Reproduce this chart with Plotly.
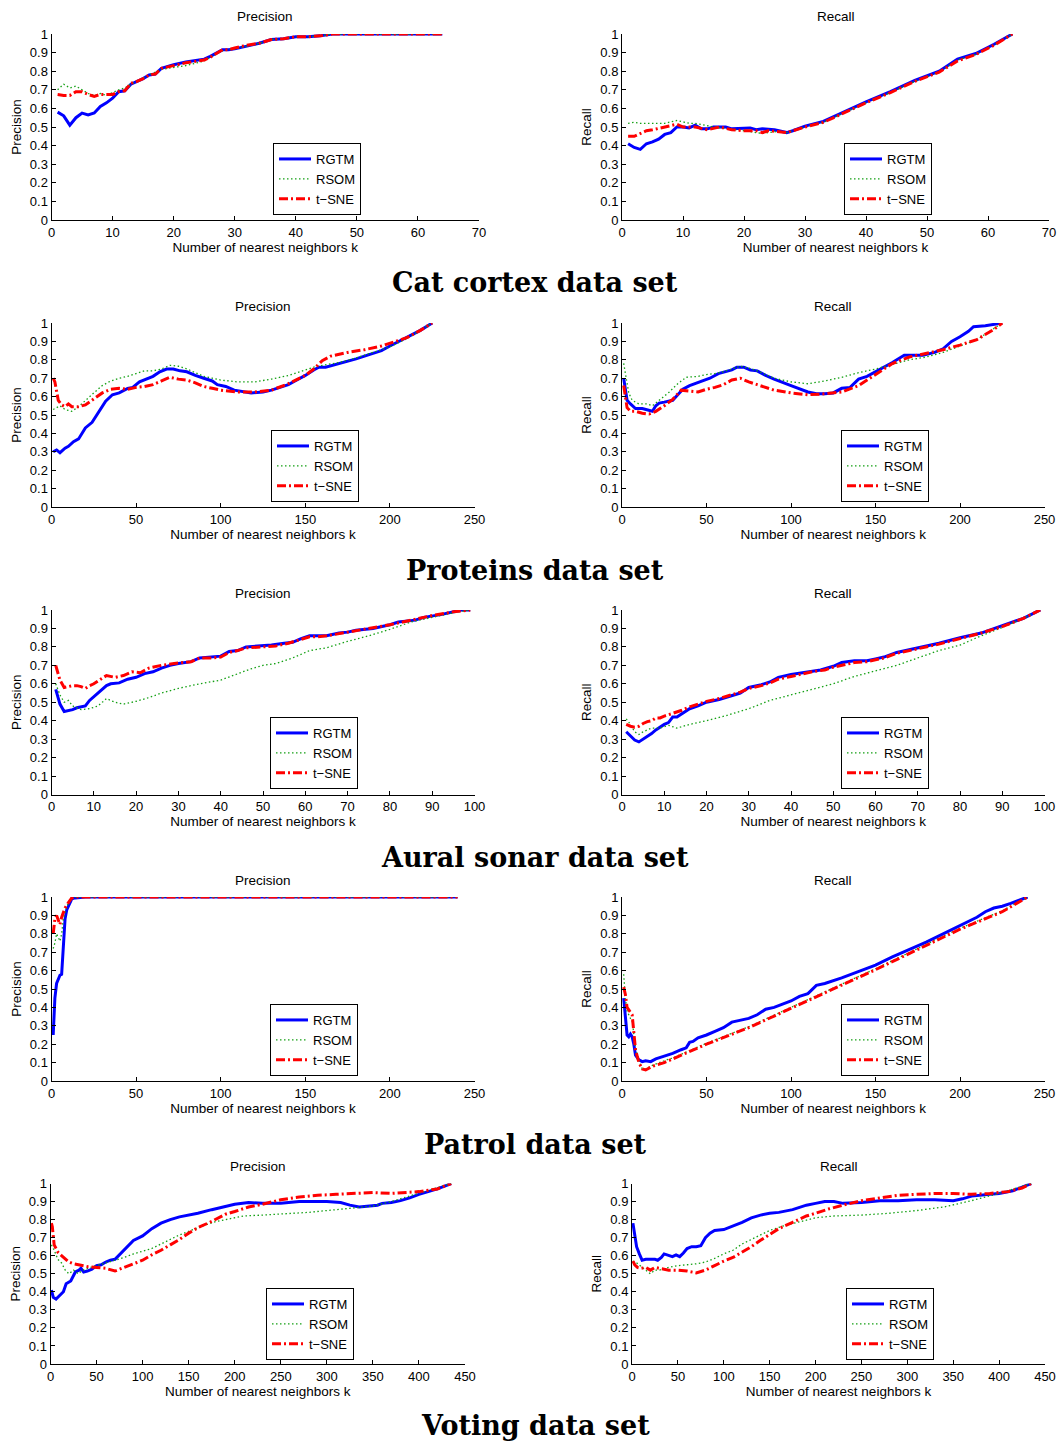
import plotly.graph_objects as go

# ---------------- DATA ----------------
methods = ["RGTM", "RSOM", "t\u2212SNE"]
captions = ["Cat cortex data set", "Proteins data set", "Aural sonar data set",
            "Patrol data set", "Voting data set"]
panel_titles = ["Precision", "Recall"]
x_title = "Number of nearest neighbors k"
y_ticks = [0, 0.1, 0.2, 0.3, 0.4, 0.5, 0.6, 0.7, 0.8, 0.9, 1]
y_ticklabels = ["0", "0.1", "0.2", "0.3", "0.4", "0.5", "0.6", "0.7", "0.8", "0.9", "1"]
x_max = [70, 250, 100, 250, 450]
x_step = [10, 50, 10, 50, 50]

# Cat cortex - precision
cat_p_rgtm_k = [1, 2, 3, 4, 5, 6, 7, 8, 9, 10, 11, 12, 13, 14, 15, 16, 17, 18, 20, 22, 24, 25, 26, 28, 29, 30, 32, 34, 36, 38, 40, 42, 44, 46, 64]
cat_p_rgtm = [0.58, 0.56, 0.51, 0.55, 0.575, 0.565, 0.575, 0.61, 0.63, 0.655, 0.69, 0.695, 0.73, 0.745, 0.76, 0.78, 0.785, 0.815, 0.835, 0.85, 0.86, 0.865, 0.88, 0.915, 0.915, 0.92, 0.935, 0.95, 0.97, 0.975, 0.985, 0.985, 0.99, 1.0, 1.0]
cat_p_rsom_k = [1, 2, 3, 4, 5, 6, 7, 8, 9, 10, 11, 12, 13, 14, 16, 18, 20, 22, 25, 26, 28, 30, 32, 34, 36, 38, 40, 42, 44, 46, 64]
cat_p_rsom = [0.70, 0.73, 0.71, 0.72, 0.70, 0.68, 0.67, 0.68, 0.67, 0.685, 0.70, 0.71, 0.73, 0.745, 0.78, 0.81, 0.82, 0.83, 0.855, 0.875, 0.91, 0.92, 0.935, 0.95, 0.97, 0.975, 0.985, 0.985, 0.99, 1.0, 1.0]
cat_p_tsne_k = [1, 2, 3, 4, 5, 6, 7, 8, 10, 11, 12, 13, 14, 15, 16, 17, 18, 20, 22, 24, 25, 26, 28, 29, 30, 32, 34, 36, 38, 40, 42, 44, 46, 64]
cat_p_tsne = [0.675, 0.67, 0.67, 0.69, 0.69, 0.675, 0.665, 0.675, 0.675, 0.69, 0.695, 0.735, 0.745, 0.76, 0.78, 0.785, 0.815, 0.83, 0.845, 0.855, 0.86, 0.875, 0.915, 0.915, 0.925, 0.94, 0.95, 0.97, 0.975, 0.985, 0.985, 0.99, 1.0, 1.0]

# Cat cortex - recall
cat_r_rgtm_k = [1, 2, 3, 4, 5, 6, 7, 8, 9, 10, 11, 12, 13, 14, 15, 17, 18, 20, 21, 22, 23, 25, 27, 28, 30, 33, 36, 40, 44, 48, 52, 55, 58, 61, 64]
cat_r_rgtm = [0.41, 0.39, 0.38, 0.41, 0.42, 0.435, 0.46, 0.47, 0.50, 0.50, 0.495, 0.51, 0.49, 0.49, 0.50, 0.50, 0.49, 0.495, 0.495, 0.485, 0.49, 0.485, 0.47, 0.48, 0.505, 0.53, 0.575, 0.635, 0.69, 0.75, 0.80, 0.865, 0.895, 0.945, 1.0]
cat_r_rsom_k = [1, 2, 3, 5, 7, 9, 11, 12, 15, 20, 22, 23, 25, 27, 30, 33, 36, 40, 44, 48, 52, 55, 58, 61, 64]
cat_r_rsom = [0.52, 0.525, 0.52, 0.52, 0.52, 0.535, 0.52, 0.52, 0.50, 0.48, 0.47, 0.465, 0.475, 0.47, 0.50, 0.525, 0.57, 0.63, 0.685, 0.745, 0.795, 0.86, 0.89, 0.94, 1.0]
cat_r_tsne_k = [1, 2, 3, 4, 5, 7, 9, 10, 12, 14, 16, 18, 20, 22, 23, 24, 27, 30, 33, 36, 40, 44, 48, 52, 55, 58, 61, 64]
cat_r_tsne = [0.45, 0.45, 0.465, 0.48, 0.485, 0.50, 0.515, 0.50, 0.50, 0.485, 0.50, 0.485, 0.48, 0.48, 0.47, 0.48, 0.47, 0.50, 0.525, 0.57, 0.63, 0.685, 0.745, 0.795, 0.855, 0.89, 0.94, 1.0]

# Proteins - precision
pro_p_rgtm_k = [1, 3, 5, 8, 10, 13, 16, 20, 24, 28, 32, 36, 40, 45, 48, 52, 57, 60, 64, 68, 72, 76, 80, 85, 90, 95, 98, 103, 108, 112, 118, 125, 130, 135, 140, 145, 150, 155, 158, 162, 170, 180, 190, 195, 200, 210, 218, 225]
pro_p_rgtm = [0.30, 0.31, 0.295, 0.32, 0.33, 0.355, 0.37, 0.43, 0.46, 0.52, 0.575, 0.61, 0.62, 0.645, 0.65, 0.68, 0.70, 0.71, 0.735, 0.75, 0.75, 0.74, 0.735, 0.715, 0.70, 0.685, 0.665, 0.655, 0.635, 0.63, 0.62, 0.625, 0.635, 0.65, 0.665, 0.69, 0.715, 0.745, 0.76, 0.76, 0.78, 0.805, 0.835, 0.85, 0.875, 0.92, 0.96, 1.0]
pro_p_rsom_k = [1, 5, 8, 12, 16, 20, 25, 30, 35, 40, 45, 50, 55, 60, 65, 70, 75, 80, 85, 90, 95, 100, 110, 120, 130, 140, 150, 155, 160, 170, 180, 190, 200, 210, 225]
pro_p_rsom = [0.53, 0.55, 0.53, 0.52, 0.545, 0.58, 0.62, 0.66, 0.685, 0.70, 0.71, 0.725, 0.74, 0.74, 0.75, 0.77, 0.765, 0.75, 0.73, 0.71, 0.70, 0.69, 0.68, 0.68, 0.695, 0.715, 0.745, 0.76, 0.77, 0.785, 0.81, 0.84, 0.87, 0.915, 1.0]
pro_p_tsne_k = [1, 2, 4, 6, 8, 10, 12, 16, 20, 25, 30, 35, 40, 45, 50, 55, 60, 65, 70, 75, 80, 85, 90, 95, 100, 110, 120, 130, 140, 150, 155, 160, 165, 175, 185, 195, 200, 210, 218, 225]
pro_p_tsne = [0.70, 0.68, 0.58, 0.555, 0.545, 0.56, 0.545, 0.545, 0.555, 0.59, 0.62, 0.64, 0.645, 0.64, 0.65, 0.655, 0.665, 0.685, 0.705, 0.695, 0.69, 0.675, 0.655, 0.645, 0.635, 0.625, 0.625, 0.635, 0.67, 0.715, 0.75, 0.795, 0.82, 0.84, 0.855, 0.875, 0.89, 0.92, 0.96, 1.0]

# Proteins - recall
pro_r_rgtm_k = [1, 2, 3, 5, 8, 12, 16, 18, 20, 22, 25, 28, 30, 33, 36, 40, 45, 48, 52, 57, 62, 65, 68, 72, 76, 80, 85, 90, 100, 110, 115, 120, 125, 130, 135, 140, 145, 150, 155, 160, 167, 172, 178, 185, 190, 195, 200, 205, 208, 215, 225]
pro_r_rgtm = [0.70, 0.65, 0.58, 0.56, 0.535, 0.535, 0.525, 0.52, 0.55, 0.565, 0.57, 0.575, 0.58, 0.61, 0.64, 0.66, 0.675, 0.685, 0.70, 0.725, 0.735, 0.745, 0.76, 0.76, 0.745, 0.74, 0.715, 0.695, 0.66, 0.625, 0.615, 0.615, 0.62, 0.645, 0.65, 0.695, 0.71, 0.735, 0.76, 0.785, 0.825, 0.825, 0.825, 0.84, 0.86, 0.90, 0.925, 0.955, 0.98, 0.985, 1.0]
pro_r_rsom_k = [1, 2, 4, 6, 10, 15, 18, 22, 28, 33, 38, 45, 50, 55, 60, 65, 70, 75, 80, 90, 100, 110, 120, 130, 140, 150, 160, 170, 180, 190, 200, 210, 225]
pro_r_rsom = [0.78, 0.72, 0.62, 0.58, 0.56, 0.56, 0.55, 0.58, 0.625, 0.67, 0.705, 0.71, 0.72, 0.725, 0.735, 0.75, 0.765, 0.755, 0.74, 0.70, 0.68, 0.67, 0.685, 0.705, 0.73, 0.75, 0.775, 0.80, 0.815, 0.84, 0.875, 0.91, 1.0]
pro_r_tsne_k = [1, 3, 5, 8, 12, 16, 20, 25, 30, 35, 40, 45, 50, 55, 60, 65, 70, 75, 80, 90, 100, 110, 120, 130, 140, 150, 160, 170, 180, 190, 200, 210, 220, 225]
pro_r_tsne = [0.66, 0.54, 0.52, 0.52, 0.51, 0.505, 0.52, 0.55, 0.585, 0.635, 0.63, 0.625, 0.64, 0.65, 0.665, 0.69, 0.70, 0.68, 0.665, 0.635, 0.62, 0.61, 0.615, 0.625, 0.66, 0.72, 0.78, 0.815, 0.835, 0.855, 0.88, 0.91, 0.965, 1.0]

# Aural sonar - precision
aur_p_rgtm_k = [1, 2, 3, 4, 5, 6, 7, 8, 9, 10, 11, 12, 13, 14, 16, 18, 20, 22, 24, 26, 28, 30, 33, 35, 38, 40, 42, 44, 46, 50, 52, 55, 57, 59, 61, 63, 65, 68, 70, 72, 76, 80, 82, 86, 88, 92, 95, 97, 99]
aur_p_rgtm = [0.57, 0.49, 0.45, 0.455, 0.46, 0.47, 0.475, 0.48, 0.51, 0.53, 0.555, 0.575, 0.59, 0.60, 0.605, 0.625, 0.635, 0.655, 0.665, 0.685, 0.70, 0.71, 0.72, 0.74, 0.745, 0.75, 0.775, 0.78, 0.80, 0.805, 0.81, 0.82, 0.825, 0.845, 0.86, 0.86, 0.86, 0.875, 0.88, 0.89, 0.90, 0.92, 0.935, 0.945, 0.96, 0.975, 0.99, 1.0, 1.0]
aur_p_rsom_k = [1, 2, 3, 4, 5, 7, 9, 11, 13, 15, 17, 20, 23, 26, 30, 35, 40, 43, 47, 50, 53, 57, 61, 65, 70, 75, 80, 85, 90, 95, 99]
aur_p_rsom = [0.60, 0.54, 0.50, 0.51, 0.48, 0.46, 0.465, 0.48, 0.52, 0.50, 0.49, 0.505, 0.525, 0.55, 0.575, 0.60, 0.62, 0.645, 0.68, 0.70, 0.71, 0.74, 0.78, 0.795, 0.83, 0.86, 0.895, 0.935, 0.96, 0.985, 1.0]
aur_p_tsne_k = [1, 2, 3, 4, 5, 6, 7, 8, 9, 10, 11, 13, 15, 17, 19, 21, 23, 26, 29, 33, 35, 38, 40, 42, 44, 46, 50, 53, 56, 59, 61, 63, 65, 70, 75, 80, 85, 90, 95, 99]
aur_p_tsne = [0.70, 0.62, 0.58, 0.585, 0.59, 0.59, 0.585, 0.575, 0.59, 0.60, 0.615, 0.645, 0.635, 0.645, 0.665, 0.66, 0.685, 0.70, 0.71, 0.72, 0.74, 0.74, 0.745, 0.77, 0.78, 0.795, 0.80, 0.805, 0.82, 0.84, 0.855, 0.855, 0.86, 0.88, 0.90, 0.92, 0.945, 0.97, 0.99, 1.0]

# Aural sonar - recall
aur_r_rgtm_k = [1, 2, 3, 4, 5, 6, 7, 8, 9, 10, 11, 12, 13, 14, 16, 18, 20, 23, 25, 28, 30, 33, 35, 37, 40, 43, 45, 47, 50, 52, 55, 58, 60, 62, 65, 68, 70, 75, 80, 85, 90, 95, 99]
aur_r_rgtm = [0.34, 0.32, 0.295, 0.285, 0.30, 0.315, 0.33, 0.35, 0.365, 0.38, 0.39, 0.42, 0.42, 0.435, 0.465, 0.48, 0.50, 0.515, 0.53, 0.55, 0.58, 0.595, 0.61, 0.635, 0.65, 0.66, 0.67, 0.675, 0.695, 0.715, 0.725, 0.725, 0.735, 0.745, 0.77, 0.785, 0.795, 0.82, 0.85, 0.875, 0.915, 0.955, 1.0]
aur_r_rsom_k = [1, 2, 3, 4, 5, 7, 9, 11, 13, 16, 20, 25, 30, 35, 40, 45, 50, 55, 60, 65, 70, 75, 80, 85, 90, 95, 99]
aur_r_rsom = [0.41, 0.38, 0.34, 0.325, 0.34, 0.36, 0.36, 0.375, 0.36, 0.38, 0.40, 0.43, 0.465, 0.51, 0.54, 0.57, 0.60, 0.64, 0.67, 0.70, 0.74, 0.78, 0.81, 0.86, 0.905, 0.955, 1.0]
aur_r_tsne_k = [1, 2, 3, 4, 5, 6, 7, 8, 9, 10, 12, 14, 16, 18, 20, 23, 25, 28, 30, 33, 35, 37, 40, 43, 45, 48, 50, 53, 55, 58, 60, 62, 65, 68, 70, 75, 80, 85, 90, 95, 99]
aur_r_tsne = [0.38, 0.37, 0.365, 0.37, 0.385, 0.395, 0.40, 0.415, 0.415, 0.425, 0.44, 0.455, 0.475, 0.49, 0.505, 0.52, 0.535, 0.555, 0.575, 0.59, 0.605, 0.625, 0.64, 0.655, 0.665, 0.675, 0.69, 0.705, 0.715, 0.72, 0.73, 0.74, 0.765, 0.78, 0.79, 0.815, 0.845, 0.875, 0.91, 0.955, 1.0]

# Patrol - precision
pat_p_rgtm_k = [1, 2, 3, 4, 5, 6, 7, 8, 9, 10, 11, 12, 14, 20, 240]
pat_p_rgtm = [0.25, 0.45, 0.53, 0.55, 0.575, 0.58, 0.75, 0.88, 0.93, 0.95, 0.97, 0.99, 0.995, 1.0, 1.0]
pat_p_rsom_k = [1, 2, 3, 4, 5, 6, 7, 9, 11, 13, 240]
pat_p_rsom = [0.72, 0.75, 0.80, 0.78, 0.76, 0.80, 0.88, 0.95, 0.98, 1.0, 1.0]
pat_p_tsne_k = [1, 2, 3, 4, 5, 6, 7, 8, 10, 12, 15, 240]
pat_p_tsne = [0.80, 0.88, 0.90, 0.87, 0.85, 0.89, 0.92, 0.94, 0.97, 0.995, 1.0, 1.0]

# Patrol - recall
pat_r_rgtm_k = [1, 2, 3, 4, 5, 6, 7, 8, 9, 10, 12, 14, 17, 20, 25, 30, 35, 38, 40, 42, 45, 50, 55, 60, 65, 70, 75, 80, 85, 90, 100, 105, 110, 115, 120, 130, 140, 150, 160, 170, 180, 190, 200, 205, 210, 215, 220, 225, 230, 240]
pat_r_rgtm = [0.45, 0.36, 0.25, 0.24, 0.255, 0.24, 0.20, 0.14, 0.125, 0.115, 0.105, 0.11, 0.105, 0.12, 0.135, 0.15, 0.17, 0.18, 0.21, 0.215, 0.235, 0.25, 0.27, 0.29, 0.32, 0.33, 0.34, 0.36, 0.39, 0.40, 0.435, 0.46, 0.475, 0.52, 0.53, 0.56, 0.595, 0.63, 0.675, 0.715, 0.755, 0.80, 0.845, 0.87, 0.89, 0.92, 0.94, 0.95, 0.965, 1.0]
pat_r_rsom_k = [1, 2, 3, 5, 6, 8, 10, 12, 14, 18, 25, 30, 50, 75, 100, 125, 150, 175, 200, 225, 240]
pat_r_rsom = [0.58, 0.45, 0.38, 0.34, 0.33, 0.18, 0.11, 0.065, 0.065, 0.085, 0.11, 0.125, 0.205, 0.295, 0.40, 0.505, 0.61, 0.72, 0.83, 0.925, 1.0]
pat_r_tsne_k = [1, 2, 3, 5, 6, 8, 10, 12, 14, 18, 25, 30, 50, 75, 100, 125, 150, 175, 200, 225, 240]
pat_r_tsne = [0.51, 0.47, 0.40, 0.37, 0.36, 0.17, 0.10, 0.065, 0.06, 0.08, 0.10, 0.12, 0.20, 0.29, 0.395, 0.50, 0.605, 0.715, 0.825, 0.92, 1.0]

# Voting - precision
vot_p_rgtm_k = [1, 3, 6, 10, 14, 17, 22, 27, 31, 33, 36, 40, 45, 50, 55, 60, 65, 70, 80, 90, 100, 110, 120, 130, 140, 150, 160, 175, 190, 200, 215, 230, 250, 270, 290, 300, 315, 325, 335, 345, 355, 360, 370, 380, 390, 400, 410, 420, 430, 435]
vot_p_rgtm = [0.41, 0.37, 0.36, 0.38, 0.40, 0.445, 0.46, 0.51, 0.52, 0.53, 0.51, 0.515, 0.525, 0.545, 0.55, 0.565, 0.575, 0.58, 0.63, 0.685, 0.71, 0.75, 0.78, 0.80, 0.815, 0.825, 0.835, 0.855, 0.875, 0.885, 0.895, 0.89, 0.89, 0.90, 0.90, 0.90, 0.895, 0.88, 0.87, 0.875, 0.88, 0.89, 0.895, 0.905, 0.92, 0.94, 0.955, 0.97, 0.99, 1.0]
vot_p_rsom_k = [1, 4, 8, 12, 16, 20, 25, 30, 35, 40, 50, 60, 70, 80, 90, 100, 110, 120, 130, 140, 150, 165, 180, 195, 210, 230, 250, 280, 310, 330, 350, 370, 390, 410, 435]
vot_p_rsom = [0.66, 0.63, 0.58, 0.56, 0.52, 0.50, 0.52, 0.50, 0.52, 0.53, 0.545, 0.56, 0.575, 0.59, 0.61, 0.625, 0.64, 0.665, 0.69, 0.715, 0.735, 0.765, 0.79, 0.805, 0.82, 0.825, 0.83, 0.84, 0.855, 0.865, 0.875, 0.90, 0.93, 0.96, 1.0]
vot_p_tsne_k = [1, 2, 4, 8, 12, 16, 20, 25, 30, 40, 50, 60, 70, 80, 90, 100, 110, 120, 130, 140, 150, 160, 175, 190, 200, 215, 230, 250, 270, 290, 310, 330, 350, 370, 385, 400, 420, 435]
vot_p_tsne = [0.78, 0.76, 0.66, 0.62, 0.60, 0.585, 0.565, 0.555, 0.55, 0.54, 0.535, 0.53, 0.515, 0.535, 0.555, 0.575, 0.605, 0.63, 0.66, 0.69, 0.725, 0.755, 0.79, 0.83, 0.845, 0.87, 0.885, 0.91, 0.925, 0.935, 0.94, 0.945, 0.95, 0.945, 0.95, 0.955, 0.97, 1.0]

# Voting - recall
vot_r_rgtm_k = [1, 3, 5, 8, 11, 15, 20, 25, 28, 32, 35, 40, 44, 48, 52, 56, 60, 65, 70, 75, 80, 85, 90, 100, 110, 120, 130, 140, 150, 160, 175, 190, 200, 210, 220, 230, 250, 270, 290, 310, 330, 350, 360, 370, 390, 400, 415, 425, 435]
vot_r_rgtm = [0.78, 0.72, 0.65, 0.61, 0.575, 0.58, 0.58, 0.58, 0.575, 0.59, 0.61, 0.60, 0.595, 0.605, 0.595, 0.615, 0.64, 0.65, 0.65, 0.655, 0.70, 0.725, 0.74, 0.745, 0.765, 0.785, 0.81, 0.825, 0.835, 0.84, 0.855, 0.88, 0.89, 0.90, 0.90, 0.89, 0.895, 0.905, 0.905, 0.91, 0.91, 0.905, 0.915, 0.93, 0.94, 0.945, 0.96, 0.98, 1.0]
vot_r_rsom_k = [1, 5, 10, 15, 20, 25, 30, 40, 50, 60, 70, 80, 90, 100, 110, 120, 130, 140, 150, 165, 180, 200, 220, 250, 280, 310, 340, 370, 400, 435]
vot_r_rsom = [0.57, 0.56, 0.54, 0.52, 0.50, 0.52, 0.52, 0.535, 0.545, 0.55, 0.555, 0.565, 0.585, 0.61, 0.63, 0.665, 0.69, 0.715, 0.74, 0.765, 0.785, 0.81, 0.82, 0.825, 0.835, 0.85, 0.87, 0.905, 0.945, 1.0]
vot_r_tsne_k = [1, 3, 6, 10, 15, 20, 25, 30, 40, 50, 60, 70, 80, 90, 100, 110, 120, 130, 140, 150, 160, 175, 190, 200, 215, 230, 250, 270, 290, 310, 330, 350, 370, 390, 410, 425, 435]
vot_r_tsne = [0.57, 0.55, 0.535, 0.53, 0.535, 0.52, 0.535, 0.53, 0.52, 0.52, 0.515, 0.505, 0.52, 0.545, 0.57, 0.59, 0.62, 0.65, 0.685, 0.72, 0.75, 0.785, 0.82, 0.835, 0.86, 0.88, 0.905, 0.92, 0.935, 0.94, 0.945, 0.945, 0.94, 0.945, 0.955, 0.975, 1.0]

panels = [
    [[(cat_p_rgtm_k, cat_p_rgtm), (cat_p_rsom_k, cat_p_rsom), (cat_p_tsne_k, cat_p_tsne)],
     [(cat_r_rgtm_k, cat_r_rgtm), (cat_r_rsom_k, cat_r_rsom), (cat_r_tsne_k, cat_r_tsne)]],
    [[(pro_p_rgtm_k, pro_p_rgtm), (pro_p_rsom_k, pro_p_rsom), (pro_p_tsne_k, pro_p_tsne)],
     [(pro_r_rgtm_k, pro_r_rgtm), (pro_r_rsom_k, pro_r_rsom), (pro_r_tsne_k, pro_r_tsne)]],
    [[(aur_p_rgtm_k, aur_p_rgtm), (aur_p_rsom_k, aur_p_rsom), (aur_p_tsne_k, aur_p_tsne)],
     [(aur_r_rgtm_k, aur_r_rgtm), (aur_r_rsom_k, aur_r_rsom), (aur_r_tsne_k, aur_r_tsne)]],
    [[(pat_p_rgtm_k, pat_p_rgtm), (pat_p_rsom_k, pat_p_rsom), (pat_p_tsne_k, pat_p_tsne)],
     [(pat_r_rgtm_k, pat_r_rgtm), (pat_r_rsom_k, pat_r_rsom), (pat_r_tsne_k, pat_r_tsne)]],
    [[(vot_p_rgtm_k, vot_p_rgtm), (vot_p_rsom_k, vot_p_rsom), (vot_p_tsne_k, vot_p_tsne)],
     [(vot_r_rgtm_k, vot_r_rgtm), (vot_r_rsom_k, vot_r_rsom), (vot_r_tsne_k, vot_r_tsne)]],
]

# ---------------- LAYOUT (pixel geometry) ----------------
W, H = 1062, 1441
FONT = "Liberation Sans, Arial, Helvetica, sans-serif"
# axis boxes in pixels: (x_left, x_right, y_top(1.0), y_bottom(0))
boxes = [
    [(51.5, 479, 34, 220), (622, 1049, 34, 220)],
    [(51.5, 474.5, 323, 507), (622, 1044.5, 323, 507)],
    [(51.5, 474.5, 610, 794.5), (622, 1044.5, 610, 794.5)],
    [(51.5, 474.5, 897, 1081), (622, 1044.5, 897, 1081)],
    [(50.5, 465, 1183.5, 1364), (632, 1045, 1183.5, 1364)],
]
legend_pos = [
    [(273, 143), (844, 143)],
    [(271, 430), (841, 430)],
    [(270, 717), (841, 717)],
    [(270, 1004), (841, 1004)],
    [(266, 1288), (846, 1288)],
]
caption_y = [283, 570, 857, 1144, 1425]

styles = [
    dict(color="rgb(0,0,255)", width=3, dash="solid"),
    dict(color="rgb(20,160,20)", width=1.3, dash="1.5px,2.5px"),
    dict(color="rgb(255,0,0)", width=3, dash="9px,3px,2px,3px"),
]

def px_x(v):
    return v / W

def px_y(v):
    return 1 - v / H

fig = go.Figure()
layout = dict(width=W, height=H, margin=dict(l=0, r=0, t=0, b=0, autoexpand=False),
              paper_bgcolor="white", plot_bgcolor="white",
              font=dict(family=FONT, size=13, color="black"), annotations=[])

idx = 0
for r in range(5):
    for c in range(2):
        idx += 1
        sfx = "" if idx == 1 else str(idx)
        xl, xr, yt, yb = boxes[r][c]
        leg = "legend" if idx == 1 else f"legend{idx}"
        for m in range(3):
            kx, vy = panels[r][c][m]
            fig.add_trace(go.Scatter(
                x=kx, y=vy, mode="lines", name=methods[m],
                line=styles[m], xaxis="x" + sfx, yaxis="y" + sfx,
                legend=leg, showlegend=True, hoverinfo="skip"))
        axis_common = dict(showline=True, linecolor="black", linewidth=1,
                           ticks="inside", ticklen=4, tickcolor="black",
                           showgrid=False, zeroline=False, mirror=False, automargin=False,
                           tickfont=dict(family=FONT, size=13, color="black"))
        layout["xaxis" + sfx] = dict(
            domain=[px_x(xl), px_x(xr)], range=[0, x_max[r]],
            tickmode="linear", tick0=0, dtick=x_step[r], anchor="y" + sfx,
            title=dict(text=x_title, standoff=1, font=dict(family=FONT, size=13.5)),
            **axis_common)
        layout["yaxis" + sfx] = dict(
            domain=[px_y(yb), px_y(yt)], range=[0, 1],
            tickmode="array", tickvals=y_ticks, ticktext=y_ticklabels, anchor="x" + sfx,
            title=dict(text=panel_titles[c], standoff=5, font=dict(family=FONT, size=13.5)),
            **axis_common)
        lx, ly = legend_pos[r][c]
        layout[leg] = dict(x=px_x(lx), y=px_y(ly), xanchor="left", yanchor="top",
                           bgcolor="white", bordercolor="black", borderwidth=1,
                           font=dict(family=FONT, size=13, color="black"),
                           itemwidth=32, tracegroupgap=0)
        layout["annotations"].append(dict(
            text=panel_titles[c], x=px_x((xl + xr) / 2), y=px_y(yt - 17),
            xref="paper", yref="paper", xanchor="center", yanchor="middle",
            showarrow=False, font=dict(family=FONT, size=13.5, color="black")))
    layout["annotations"].append(dict(
        text="<b>" + captions[r] + "</b>", x=px_x(535), y=px_y(caption_y[r]),
        xref="paper", yref="paper", xanchor="center", yanchor="middle",
        showarrow=False, font=dict(family="DejaVu Serif, serif", size=27, color="black")))

fig.update_layout(**layout)
fig.write_html("out.html")
